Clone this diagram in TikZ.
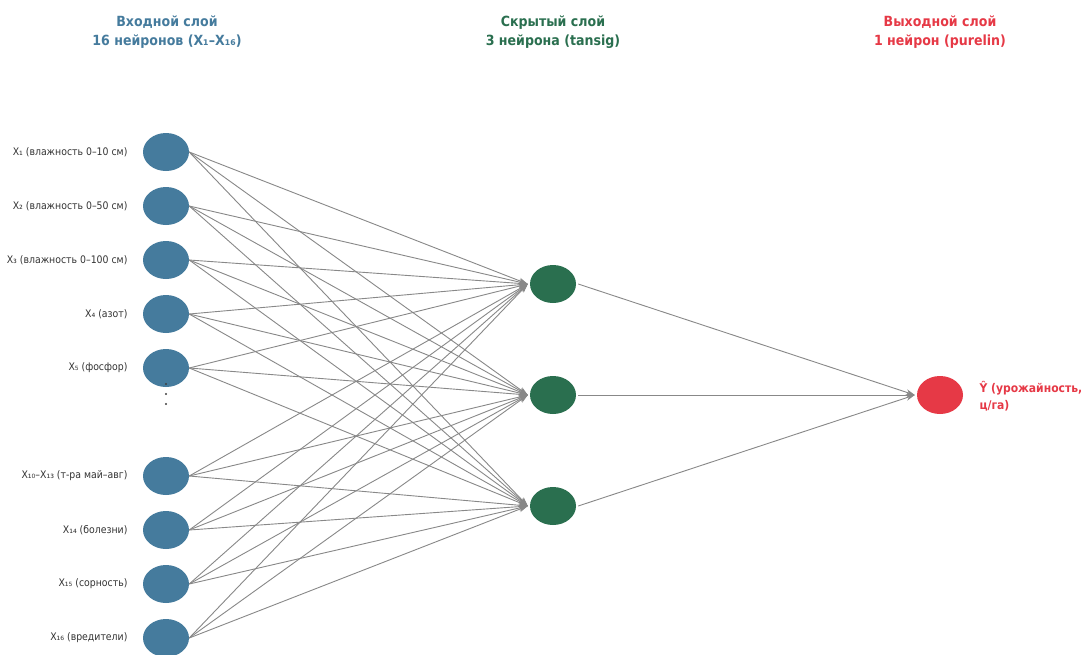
\documentclass[tikz,border=0pt]{standalone}
\usepackage{fontspec}
\setmainfont{DejaVu Sans}
\newfontfamily\condfont{DejaVu Sans Condensed}
\usetikzlibrary{shapes.geometric,arrows.meta}
\definecolor{inblue}{HTML}{457B9D}
\definecolor{hidgreen}{HTML}{2A6F4F}
\definecolor{outred}{HTML}{E63946}
\definecolor{edgegray}{HTML}{888888}
\tikzset{
  neuron/.style={ellipse, minimum width=46pt, minimum height=38pt, inner sep=0pt, draw=none},
  innode/.style={neuron, fill=inblue},
  hidnode/.style={neuron, fill=hidgreen},
  outnode/.style={neuron, fill=outred},
  inlabel/.style={anchor=east, font=\condfont\fontsize{10.4}{12}\selectfont, text=black!80},
  title/.style={align=center, font=\condfont\bfseries\fontsize{14}{19}\selectfont},
  link/.style={draw=edgegray, line width=0.9pt, -{Stealth[length=9pt,width=6pt]}},
}
\begin{document}
\begin{tikzpicture}[x=1pt,y=-1pt]
\useasboundingbox[fill=white] (0,0) rectangle (1086,654);

% layer titles
\node[title, text=inblue] (tin) at (167,32) {Входной слой\\16 нейронов (X₁–X₁₆)};
\node[title, text=hidgreen] (thid) at (553,32) {Скрытый слой\\3 нейрона (tansig)};
\node[title, text=outred] (tout) at (940,32) {Выходной слой\\1 нейрон (purelin)};

% input neurons
\node[innode] (i1) at (166,152) {};
\node[innode] (i2) at (166,206) {};
\node[innode] (i3) at (166,260) {};
\node[innode] (i4) at (166,314) {};
\node[innode] (i5) at (166,368) {};
\node[innode] (i6) at (166,476) {};
\node[innode] (i7) at (166,530) {};
\node[innode] (i8) at (166,584) {};
\node[innode] (i9) at (166,638) {};

% input labels
\node[inlabel] (l1) at (131,152) {X₁ (влажность 0–10 см)};
\node[inlabel] (l2) at (131,206) {X₂ (влажность 0–50 см)};
\node[inlabel] (l3) at (131,260) {X₃ (влажность 0–100 см)};
\node[inlabel] (l4) at (131,314) {X₄ (азот)};
\node[inlabel] (l5) at (131,368) {X₅ (фосфор)};
\node[inlabel] (l6) at (131,476) {X₁₀–X₁₃ (т-ра май–авг)};
\node[inlabel] (l7) at (131,530) {X₁₄ (болезни)};
\node[inlabel] (l8) at (131,584) {X₁₅ (сорность)};
\node[inlabel] (l9) at (131,638) {X₁₆ (вредители)};

% vertical ellipsis between the input groups
\foreach \yy in {384,394,404}
  \fill[black!75] (166,\yy) circle (1.2pt);

% hidden neurons
\node[hidnode] (h1) at (553,284) {};
\node[hidnode] (h2) at (553,395) {};
\node[hidnode] (h3) at (553,506) {};

% output neuron
\node[outnode] (o) at (940,395) {};
\node[anchor=west, align=left, text=outred, font=\condfont\bfseries\fontsize{12}{17}\selectfont] (ol) at (976,396) {Ŷ (урожайность,\\ц/га)};

% connections: all weights meet at the left point of each receiving neuron
\foreach \a in {1,...,9}
  \foreach \b in {1,2,3}
    \draw[link] (i\a.east) -- ([xshift=-2pt]h\b.west);
\foreach \b in {1,2,3}
  \draw[link] ([xshift=2pt]h\b.east) -- ([xshift=-2pt]o.west);
\end{tikzpicture}
\end{document}
